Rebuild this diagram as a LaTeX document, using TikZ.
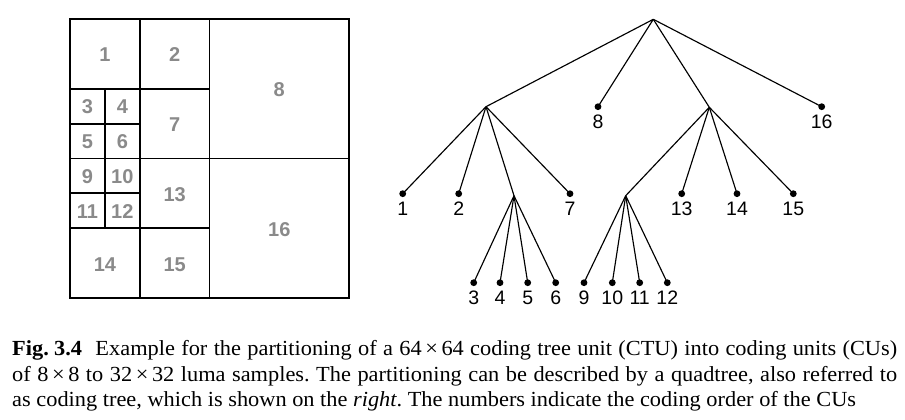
\documentclass[tikz,border=0pt]{standalone}
\usepackage{fontspec}
\setmainfont{Liberation Serif}
\newfontfamily\capfont[FakeStretch=1.04]{Liberation Serif}
\newfontfamily\labfont{Liberation Sans}
\begin{document}
\begin{tikzpicture}[x=1pt,y=-1pt,
  frame/.style={line width=2.4pt},
  grid/.style={line width=1.8pt},
  cell/.style={font=\labfont\bfseries\fontsize{20}{22}\selectfont, text={rgb,255:red,138;green,138;blue,138}, inner sep=0pt, text height=14pt, text depth=0pt},
  edge/.style={line width=1.15pt},
  leaf/.style={circle, fill=black, minimum size=6.8pt, inner sep=0pt,
     label={[lab]below:#1}},
  lab/.style={font=\labfont\fontsize{19.5}{22}\selectfont, inner sep=0pt, text height=14pt, text depth=0pt, label distance=4pt},
  capt/.style={anchor=north west, inner sep=0pt, text width=885pt, align=justify,
     font=\capfont\fontsize{21.5}{25.3}\selectfont\frenchspacing}]
\useasboundingbox (0,0) rectangle (905,420);
% quadtree partition
\draw[frame] (70,19) rectangle (349,298);
\draw[grid] (209.5,19) -- (209.5,298);
\draw[grid] (70,158.5) -- (349,158.5);
\draw[grid] (139.75,19) -- (139.75,298);
\draw[grid] (70,88.75) -- (209.5,88.75);
\draw[grid] (70,228.25) -- (209.5,228.25);
\draw[grid] (104.875,88.75) -- (104.875,228.25);
\draw[grid] (70,123.625) -- (139.75,123.625);
\draw[grid] (70,193.375) -- (139.75,193.375);
\node[cell] (c1) at (104.875,55) {1};
\node[cell] (c2) at (174.625,55) {2};
\node[cell] (c3) at (87.44,106.6) {3};
\node[cell] (c4) at (122.31,106.6) {4};
\node[cell] (c5) at (87.44,141.5) {5};
\node[cell] (c6) at (122.31,141.5) {6};
\node[cell] (c7) at (174.625,124.2) {7};
\node[cell] (c8) at (279.25,89.5) {8};
\node[cell] (c9) at (87.44,176.3) {9};
\node[cell] (c10) at (122.31,176.3) {10};
\node[cell] (c11) at (87.44,211.2) {11};
\node[cell] (c12) at (122.31,211.2) {12};
\node[cell] (c13) at (174.625,194) {13};
\node[cell] (c14) at (104.875,264) {14};
\node[cell] (c15) at (174.625,264) {15};
\node[cell] (c16) at (279.25,229) {16};
% coding tree
\coordinate (root) at (653.3,19.3);
\coordinate (nA) at (486,106.7);
\coordinate (nB) at (709.3,107.3);
\coordinate (nC) at (514,195.7);
\coordinate (nD) at (625.7,195.7);
\node[leaf=8] (l8) at (598,106.7) {};
\node[leaf=16] (l16) at (821.7,106.7) {};
\node[leaf=1] (l1) at (402.7,193.7) {};
\node[leaf=2] (l2) at (458.7,193.7) {};
\node[leaf=7] (l7) at (570,193.7) {};
\node[leaf=13] (l13) at (681.7,193.7) {};
\node[leaf=14] (l14) at (737,193.7) {};
\node[leaf=15] (l15) at (793.3,193.7) {};
\node[leaf=3] (l3) at (473.7,282.7) {};
\node[leaf=4] (l4) at (500,282.7) {};
\node[leaf=5] (l5) at (527.7,282.7) {};
\node[leaf=6] (l6) at (555.7,282.7) {};
\node[leaf=9] (l9) at (584,282.7) {};
\node[leaf=10] (l10) at (612.3,282.7) {};
\node[leaf=11] (l11) at (639.7,282.7) {};
\node[leaf=12] (l12) at (667.3,282.7) {};
\draw[edge] (root) -- (nA);
\draw[edge] (root) -- (l8.center);
\draw[edge] (root) -- (nB);
\draw[edge] (root) -- (l16.center);
\draw[edge] (nA) -- (l1.center);
\draw[edge] (nA) -- (l2.center);
\draw[edge] (nA) -- (nC);
\draw[edge] (nA) -- (l7.center);
\draw[edge] (nB) -- (nD);
\draw[edge] (nB) -- (l13.center);
\draw[edge] (nB) -- (l14.center);
\draw[edge] (nB) -- (l15.center);
\draw[edge] (nC) -- (l3.center);
\draw[edge] (nC) -- (l4.center);
\draw[edge] (nC) -- (l5.center);
\draw[edge] (nC) -- (l6.center);
\draw[edge] (nD) -- (l9.center);
\draw[edge] (nD) -- (l10.center);
\draw[edge] (nD) -- (l11.center);
\draw[edge] (nD) -- (l12.center);
% caption
\node[capt] (cap) at (12,340.5) {\textbf{Fig.\hspace{0.25em}3.4}\hspace{0.62em}Example for the partitioning of a 64\,×\,64 coding tree unit (CTU) into coding units (CUs)\linebreak
of 8\,×\,8 to 32\,×\,32 luma samples. The partitioning can be described by a quadtree, also referred to\linebreak
as coding tree, which is shown on the \textit{right}. The numbers indicate the coding order of the CUs};
\end{tikzpicture}
\end{document}
